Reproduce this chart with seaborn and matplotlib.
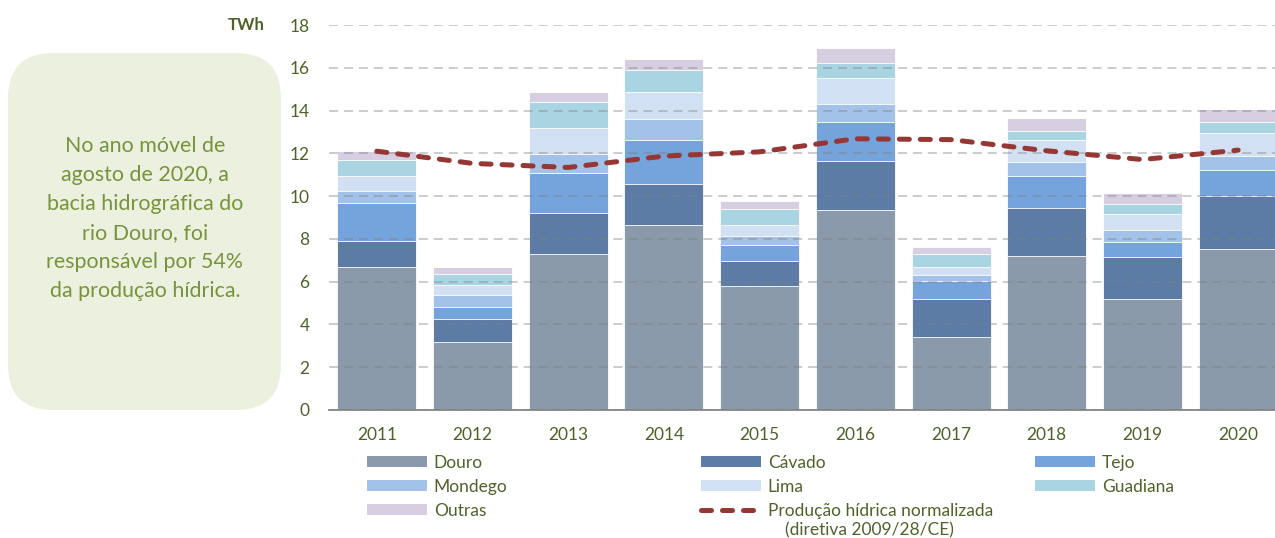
import numpy as np
import pandas as pd
import seaborn as sns
import matplotlib.pyplot as plt
from matplotlib.patches import Patch, FancyBboxPatch
from matplotlib.lines import Line2D

sns.set_theme(style="white")
plt.rcParams['font.family'] = ['Lato', 'DejaVu Sans']

anos = ['2011', '2012', '2013', '2014', '2015', '2016', '2017', '2018', '2019', '2020']
douro = [6.68, 3.19, 7.29, 8.64, 5.79, 9.35, 3.41, 7.20, 5.19, 7.52]
cavado = [1.23, 1.05, 1.93, 1.94, 1.19, 2.30, 1.76, 2.25, 1.98, 2.48]
tejo = [1.78, 0.59, 1.86, 2.04, 0.75, 1.81, 0.86, 1.48, 0.68, 1.23]
mondego = [0.54, 0.54, 0.90, 0.99, 0.40, 0.84, 0.28, 0.66, 0.56, 0.66]
lima = [0.72, 0.49, 1.21, 1.27, 0.50, 1.21, 0.39, 1.03, 0.75, 1.04]
guadiana = [0.76, 0.50, 1.23, 1.01, 0.79, 0.72, 0.59, 0.42, 0.47, 0.54]
outras = [0.39, 0.31, 0.44, 0.51, 0.36, 0.69, 0.34, 0.59, 0.53, 0.61]
normalizada = [12.10, 11.53, 11.34, 11.87, 12.07, 12.68, 12.64, 12.12, 11.71, 12.15]

bacias = ['Douro', 'Cávado', 'Tejo', 'Mondego', 'Lima', 'Guadiana', 'Outras']
cores = ['#8a9aab', '#5d7ca5', '#75a3dc', '#a3c2e9', '#d1e0f3', '#a8d5e1', '#d7cee2']
verde_txt = '#4f6228'
vermelho = '#953735'

df = pd.DataFrame({'Douro': douro, 'Cávado': cavado, 'Tejo': tejo, 'Mondego': mondego,
                   'Lima': lima, 'Guadiana': guadiana, 'Outras': outras}, index=anos)
acum = df[bacias].cumsum(axis=1)

fig = plt.figure(figsize=(12.75, 5.38), dpi=100)
ax = fig.add_axes([329 / 1275, 1 - 410 / 538, (1286 - 329) / 1275, 385 / 538])

# stacked bars: draw cumulative totals from top to bottom
for bacia, cor in reversed(list(zip(bacias, cores))):
    sns.barplot(x=anos, y=acum[bacia].values, color=cor, width=0.826,
                edgecolor='white', linewidth=0.6, saturation=1, ax=ax)

sns.lineplot(x=np.arange(len(anos)), y=normalizada, color=vermelho, lw=3.6,
             dashes=False, ax=ax, zorder=4)
ax.lines[-1].set_linestyle((0, (2.0, 2.2)))
ax.lines[-1].set_dash_capstyle('round')

ax.set_ylim(0, 18)
ax.set_xlim(-0.5, 9.5)
ax.set_yticks(range(0, 19, 2))
ax.set_axisbelow(False)
ax.yaxis.grid(True, color='#7f7f7f', alpha=0.5, lw=1.1, linestyle=(0, (5.9, 3.9)))
ax.xaxis.grid(False)
for s in ['top', 'right', 'left']:
    ax.spines[s].set_visible(False)
ax.spines['bottom'].set_color('#868686')
ax.spines['bottom'].set_linewidth(1.3)
ax.set_xticks(np.arange(-0.5, 10, 1), minor=True)
ax.tick_params(axis='x', which='major', length=0, pad=12, labelsize=12.5, labelcolor=verde_txt)
ax.tick_params(axis='x', which='minor', length=4, width=1.3, color='#868686', direction='out')
ax.tick_params(axis='y', length=0, pad=14, labelsize=12.5, labelcolor=verde_txt)
ax.set_xlabel('')
ax.set_ylabel('')

fig.text(265 / 1275, 1 - 25 / 538, 'TWh', ha='right', va='center', fontsize=12,
         fontweight='bold', color=verde_txt)

# caixa de texto
caixa = FancyBboxPatch((0.08, 1.28), 2.73, 3.57, boxstyle='round,pad=0,rounding_size=0.45',
                       transform=fig.dpi_scale_trans, facecolor='#ebf1de', edgecolor='none')
fig.patches.append(caixa)
fig.text(145 / 1275, 1 - 218.5 / 538,
         'No ano móvel de\nagosto de 2020, a\nbacia hidrográfica do\nrio Douro, foi\n'
         'responsável por 54%\nda produção hídrica.',
         ha='center', va='center', multialignment='center', fontsize=15.4,
         linespacing=1.57, color='#77933c')

# legenda em três colunas
h = {b: Patch(facecolor=c, edgecolor='none') for b, c in zip(bacias, cores)}
linha = Line2D([], [], color=vermelho, lw=3.6, linestyle=(0, (2.0, 2.2)),
               dash_capstyle='round')
colunas = [
    ([h['Douro'], h['Mondego'], h['Outras']], ['Douro', 'Mondego', 'Outras'], 367),
    ([h['Cávado'], h['Lima'], linha], ['Cávado', 'Lima', 'Produção hídrica normalizada'], 701),
    ([h['Tejo'], h['Guadiana']], ['Tejo', 'Guadiana'], 1035),
]
for hs, ls, x0 in colunas:
    fig.legend(hs, ls, loc='upper left', bbox_to_anchor=(x0 / 1275, 1 - 455 / 538),
               frameon=False, borderaxespad=0, borderpad=0, handlelength=3.45,
               handleheight=0.575, handletextpad=0.4, labelspacing=0.46, fontsize=12.5,
               labelcolor=verde_txt)
fig.text(785 / 1275, 1 - 530 / 538, '(diretiva 2009/28/CE)', ha='left', va='center',
         fontsize=12.5, color=verde_txt)

fig.savefig('out.png', dpi=100)
